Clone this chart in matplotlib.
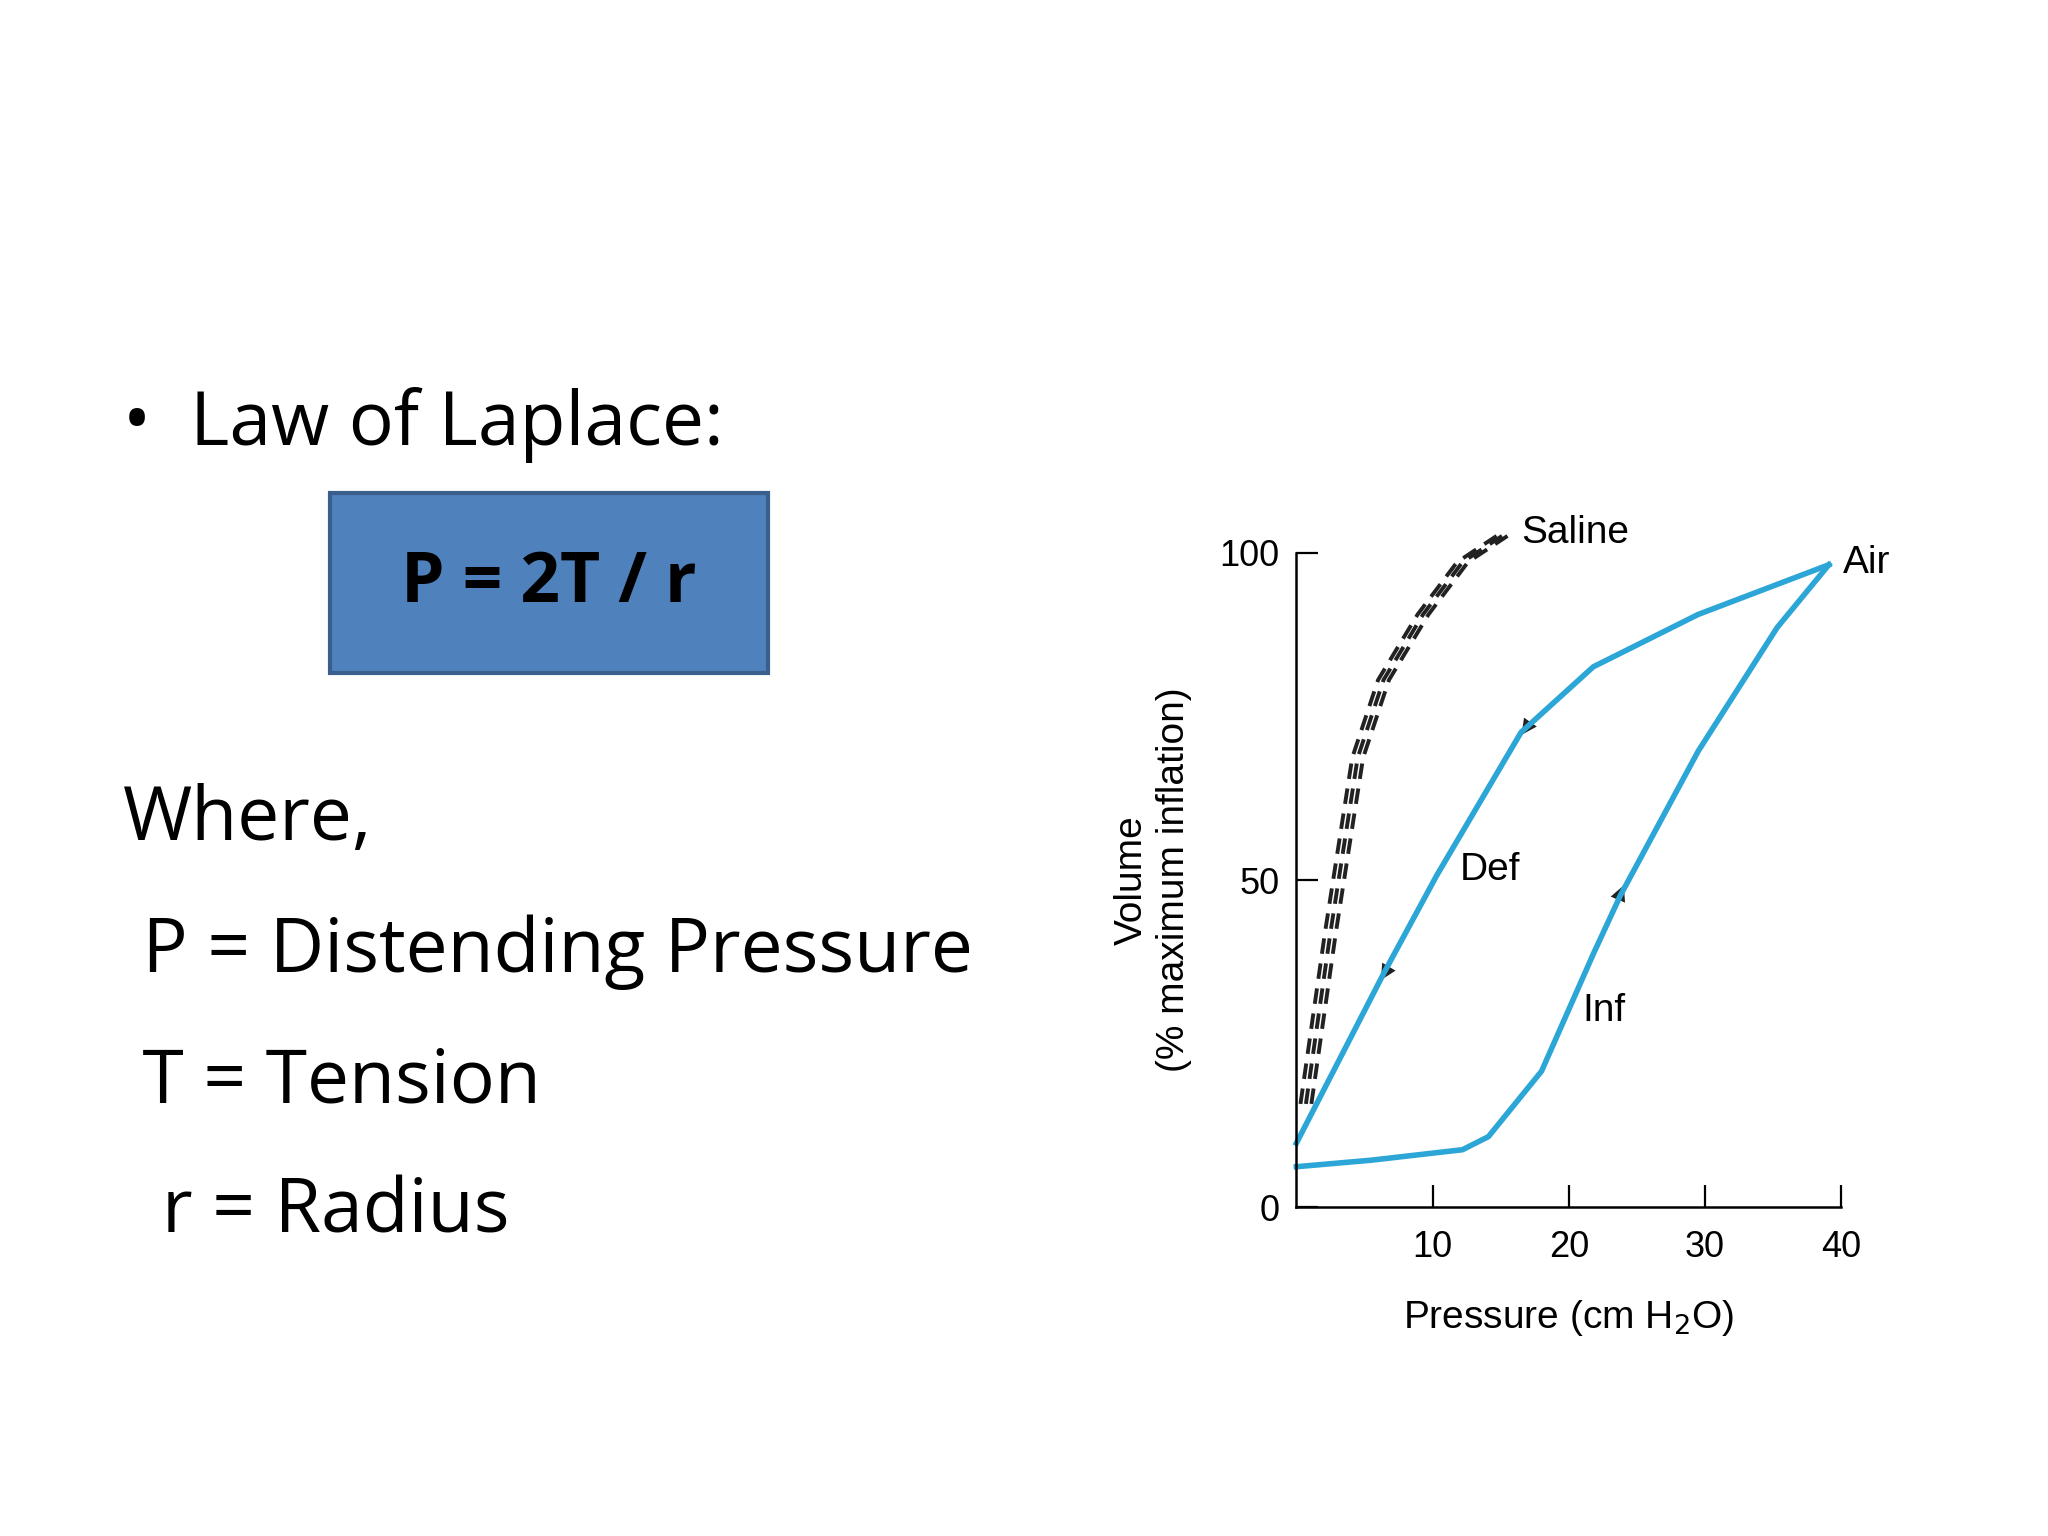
import matplotlib
matplotlib.use("Agg")
import matplotlib.pyplot as plt
from matplotlib.patches import Rectangle, FancyArrowPatch

# Data
saline_p = [0.7, 2.5, 4.5, 6.4, 9.3, 12.2, 15.1]
saline_v = [15.8, 42, 68.7, 80.6, 90.6, 98.6, 102.6]
def_p = [39.1, 29.5, 21.8, 16.5, 10.3, 6.4, 0.0]
def_v = [98.2, 90.6, 82.6, 72.6, 50.7, 35.7, 9.8]
inf_p = [0.0, 5.5, 12.2, 14.1, 18.0, 21.8, 23.8, 29.5, 35.3, 39.1]
inf_v = [6.2, 7.2, 8.8, 10.8, 20.8, 38.7, 47.7, 69.7, 88.6, 98.2]
xticks = [10, 20, 30, 40]
yticks = [0, 50, 100]

BLUE = "#2BA6D6"
fig = plt.figure(figsize=(10.24, 7.68), dpi=200)
fig.patch.set_facecolor("white")
body = ["Open Sans", "DejaVu Sans"]
chartf = ["Liberation Sans Narrow", "Liberation Sans", "DejaVu Sans"]

fig.text(0.06, 0.723, "•  Law of Laplace:", fontsize=27, family=body, va="center")
fig.patches.append(Rectangle((0.161, 0.562), 0.214, 0.117, transform=fig.transFigure,
                             facecolor="#4F81BD", edgecolor="#3A5F8C", lw=1.5))
fig.text(0.268, 0.620, "P = 2T / r", fontsize=25, family=body, weight="bold",
         ha="center", va="center")
for y, s in [(0.466, "Where,"), (0.380, " P = Distending Pressure"),
             (0.295, " T = Tension"), (0.210, "  r = Radius")]:
    fig.text(0.06, y, s, fontsize=27, family=body, va="center")

ax = fig.add_axes([0.633, 0.214, 0.266, 0.426])
ax.set_xlim(0, 40)
ax.set_ylim(0, 100)
ax.patch.set_alpha(0)
for s in ["top", "right"]:
    ax.spines[s].set_visible(False)
ax.spines["left"].set_linewidth(0.9)
ax.spines["bottom"].set_linewidth(0.9)
ax.set_xticks(xticks)
ax.set_yticks(yticks)
ax.tick_params(axis="x", direction="in", length=8, labelsize=13, pad=8)
ax.tick_params(axis="y", direction="in", length=8, labelsize=13, pad=6)
for lab in ax.get_xticklabels() + ax.get_yticklabels():
    lab.set_family(chartf)

for dx in (-0.4, 0.0, 0.4):
    ax.plot([p + dx for p in saline_p], saline_v, ls=(0, (4, 2.5)), color="#222222",
            lw=1.4, clip_on=False)
ax.plot(def_p, def_v, color=BLUE, lw=2, clip_on=False)
ax.plot(inf_p, inf_v, color=BLUE, lw=2, clip_on=False)

def arrow(p0, p1):
    ax.add_patch(FancyArrowPatch(p0, p1, arrowstyle="-|>", mutation_scale=14,
                                 color="#222222", lw=0))
arrow((17.3, 74.5), (16.3, 71.5))
arrow((7.0, 37.5), (6.0, 34.0))
arrow((23.4, 46.0), (24.2, 50.0))

ax.text(16.5, 103, "Saline", fontsize=14, family=chartf, va="center")
ax.text(40.1, 98.5, "Air", fontsize=14, family=chartf, va="center")
ax.text(12, 51.5, "Def", fontsize=14, family=chartf, va="center")
ax.text(21, 30, "Inf", fontsize=14, family=chartf, va="center")
ax.set_xlabel("Pressure (cm H$_2$O)", fontsize=14, family=chartf, labelpad=12)
ax.set_ylabel("Volume\n(% maximum inflation)", fontsize=14, family=chartf, labelpad=10)

fig.savefig("out.png", dpi=200, facecolor="white")
